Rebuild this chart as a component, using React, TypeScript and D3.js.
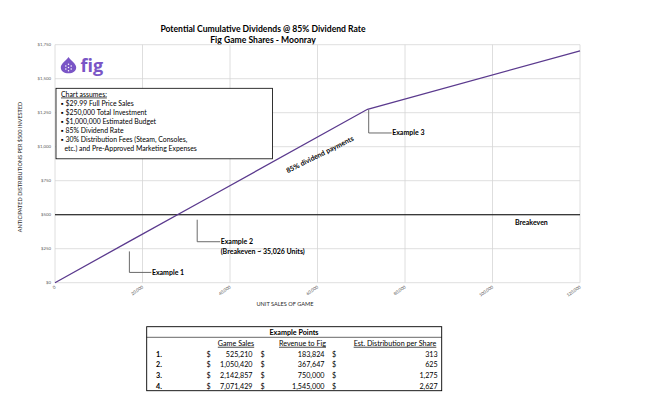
import React from 'react';
import * as d3 from 'd3';

// dividend curve (units sold -> $ per $500 invested)
const units = [0, 17507, 35014, 71429, 120000];
const dividends = [0, 313, 625, 1275, 1705];
const breakeven = 500;

const xTicks = [0, 20000, 40000, 60000, 80000, 100000, 120000];
const yTicks = [0, 250, 500, 750, 1000, 1250, 1500, 1750];

const assumptions = [
  '$29.99 Full Price Sales',
  '$250,000 Total Investment',
  '$1,000,000 Estimated Budget',
  '85% Dividend Rate',
  '30% Distribution Fees (Steam, Consoles,',
];
const assumptionsCont = 'etc.) and Pre-Approved Marketing Expenses';

const rowLabels = ['1.', '2.', '3.', '4.'];
const gameSales = ['525,210', '1,050,420', '2,142,857', '7,071,429'];
const revenueToFig = ['183,824', '367,647', '750,000', '1,545,000'];
const distPerShare = ['313', '625', '1,275', '2,627'];

// callouts: point on chart (units, $), elbow drop in px, label lines
const callouts = [
  { x: 17000, y: 230, drop: 21, len: 22, lines: ['Example 1'] },
  { x: 32500, y: 463, drop: 22, len: 23, lines: ['Example 2', '(Breakeven ~ 35,026 Units)'] },
  { x: 71700, y: 1270, drop: 23, len: 23, lines: ['Example 3'] },
];

const font = 'Lato, "Open Sans", sans-serif';
const purple = '#5b3a8e';
const grid = '#d6d6d6';

export default function App() {
  const x = d3.scaleLinear().domain([0, 120000]).range([55, 580]);
  const y = d3.scaleLinear().domain([0, 1750]).range([282.7, 44.7]);

  const line = d3
    .line<number>()
    .x((_, i) => x(units[i]))
    .y((d) => y(d));

  const fmt = d3.format(',');

  // table layout
  const tTop = 326.7;
  const rowY = (i: number) => 356.8 + i * 10.6;

  return (
    <svg width={650} height={405} style={{ position: 'absolute', left: 0, top: 0, background: '#fff' }} fontFamily={font}>
      {/* title */}
      <text x={263} y={32} textAnchor="middle" fontSize={8.6} fontWeight={700} fill="#000">
        Potential Cumulative Dividends @ 85% Dividend Rate
      </text>
      <text x={263} y={43} textAnchor="middle" fontSize={8.6} fontWeight={700} fill="#000">
        Fig Game Shares - Moonray
      </text>

      {/* gridlines */}
      <g>
        {yTicks.map((t) => (
          <line key={'gy' + t} x1={x(0)} x2={x(120000)} y1={y(t)} y2={y(t)} stroke={grid} strokeWidth={0.8} />
        ))}
        {xTicks.map((t) => (
          <line key={'gx' + t} x1={x(t)} x2={x(t)} y1={y(0)} y2={y(1750)} stroke={grid} strokeWidth={0.8} />
        ))}
      </g>

      {/* y tick labels */}
      {yTicks.map((t) => (
        <text key={'ty' + t} x={51} y={y(t) + 1.5} textAnchor="end" fontSize={4.3} fill="#595959">
          {'$' + fmt(t)}
        </text>
      ))}
      {/* x tick labels */}
      {xTicks.map((t) => (
        <text
          key={'tx' + t}
          transform={`translate(${x(t) + 1},${y(0) + 5}) rotate(-35)`}
          textAnchor="end"
          fontSize={4.3}
          fill="#595959"
        >
          {fmt(t)}
        </text>
      ))}

      {/* axis titles */}
      <text x={285} y={306} textAnchor="middle" fontSize={5.6} fill="#262626">
        UNIT SALES OF GAME
      </text>
      <text transform="translate(22,167) rotate(-90)" textAnchor="middle" fontSize={5.5} fill="#262626">
        ANTICIPATED DISTRIBUTIONS PER $500 INVESTED
      </text>

      {/* breakeven line */}
      <line x1={x(0)} x2={x(120000)} y1={y(breakeven)} y2={y(breakeven)} stroke="#000" strokeWidth={1.1} />
      <text x={515} y={224.5} fontSize={7} fontWeight={700} fill="#000">
        Breakeven
      </text>

      {/* dividend line */}
      <path d={line(dividends) || ''} fill="none" stroke={purple} strokeWidth={1.3} />
      <text
        transform={`translate(321,156.7) rotate(-26.5)`}
        textAnchor="middle"
        fontSize={7}
        fontWeight={700}
        fill="#000"
      >
        85% dividend payments
      </text>

      {/* callouts */}
      {callouts.map((c, i) => {
        const px = x(c.x);
        const py = y(c.y);
        return (
          <g key={'c' + i}>
            <polyline
              points={`${px},${py} ${px},${py + c.drop} ${px + c.len},${py + c.drop}`}
              fill="none"
              stroke="#595959"
              strokeWidth={0.9}
            />
            {c.lines.map((l, j) => (
              <text key={j} x={px + c.len + 0.5} y={py + c.drop + 2.4 + j * 9.6} fontSize={7} fontWeight={700} fill="#000">
                {l}
              </text>
            ))}
          </g>
        );
      })}

      {/* fig logo */}
      <g>
        <path
          d="M68.5,57 C66.5,60.5 60.8,63.5 60.8,67.5 C60.8,71.3 64.2,73.3 68.5,73.3 C72.8,73.3 76.2,71.3 76.2,67.5 C76.2,63.5 70.5,60.5 68.5,57 Z"
          fill="#7a55c6"
        />
        {[
          [68.5, 64.3],
          [65.8, 65.9],
          [71.2, 65.9],
          [65.8, 69.1],
          [71.2, 69.1],
          [68.5, 70.7],
          [68.5, 67.5],
        ].map(([cx, cy], i) => (
          <circle key={i} cx={cx} cy={cy} r={0.75} fill="#fff" />
        ))}
        <text x={80.5} y={72} fontSize={18} fontWeight={700} fill="#7a55c6" fontFamily={'"Open Sans", sans-serif'}>
          fig
        </text>
      </g>

      {/* assumptions box */}
      <rect x={56} y={88.3} width={216.5} height={70.5} fill="#fff" stroke="#000" strokeWidth={0.8} />
      <text x={61} y={96.6} fontSize={6.9} fill="#000" textDecoration="underline">
        Chart assumes:
      </text>
      {assumptions.map((a, i) => (
        <text key={a} x={61} y={106.3 + i * 9} fontSize={6.9} fill="#000">
          {'\u25AA ' + a}
        </text>
      ))}
      <text x={64.5} y={106.3 + assumptions.length * 9} fontSize={6.9} fill="#000">
        {assumptionsCont}
      </text>

      {/* example points table */}
      <g fontSize={7.2} fill="#000">
        <rect x={146.7} y={tTop} width={295} height={64} fill="#fff" stroke="#000" strokeWidth={0.9} />
        <line x1={146.7} x2={441.7} y1={337.3} y2={337.3} stroke="#000" strokeWidth={0.6} />
        <text x={294} y={334.7} textAnchor="middle" fontWeight={700}>
          Example Points
        </text>
        <text x={236} y={345.8} textAnchor="middle" textDecoration="underline">
          Game Sales
        </text>
        <text x={302.5} y={345.8} textAnchor="middle" textDecoration="underline">
          Revenue to Fig
        </text>
        <text x={395} y={345.8} textAnchor="middle" textDecoration="underline">
          Est. Distribution per Share
        </text>
        {rowLabels.map((r, i) => (
          <g key={r}>
            <text x={156} y={rowY(i)} fontWeight={700}>
              {r}
            </text>
            <text x={206.5} y={rowY(i)}>$</text>
            <text x={252.5} y={rowY(i)} textAnchor="end">
              {gameSales[i]}
            </text>
            <text x={260.5} y={rowY(i)}>$</text>
            <text x={324.5} y={rowY(i)} textAnchor="end">
              {revenueToFig[i]}
            </text>
            <text x={332} y={rowY(i)}>$</text>
            <text x={437.7} y={rowY(i)} textAnchor="end">
              {distPerShare[i]}
            </text>
          </g>
        ))}
      </g>
    </svg>
  );
}
